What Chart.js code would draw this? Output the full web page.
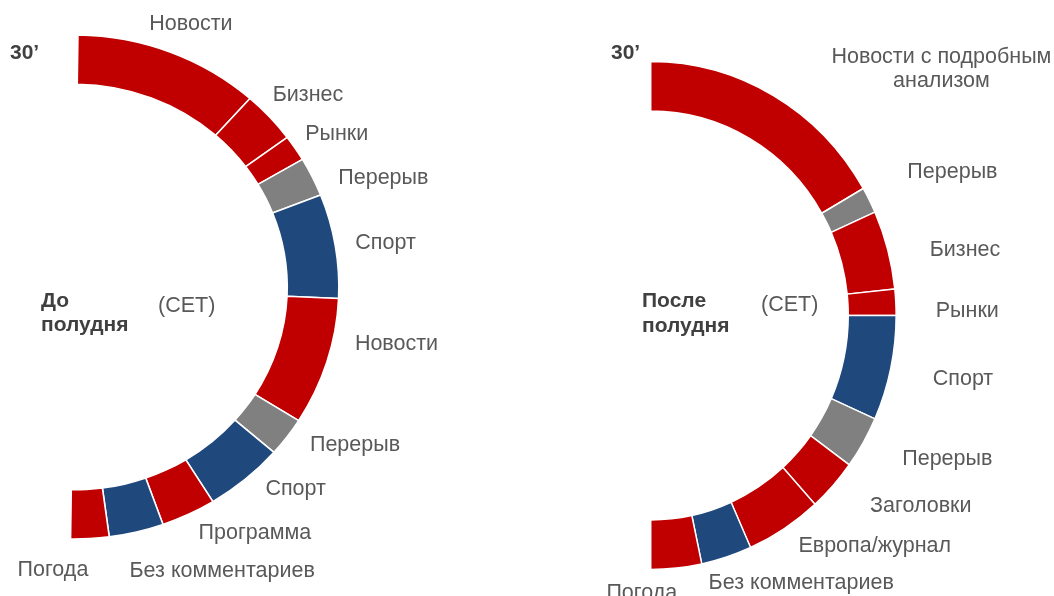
<!DOCTYPE html>
<html>
<head>
<meta charset="utf-8">
<script src="https://cdn.jsdelivr.net/npm/chart.js@4/dist/chart.umd.min.js"></script>
<style>
    html, body { margin: 0; padding: 0; background: #fff; }
    .grafic { position: absolute; left: 0; top: 0; width: 1054px; height: 596px; }
</style>
</head>
<body>
<div class="grafic"><canvas id="doPoludnya"></canvas></div>
<div class="grafic"><canvas id="poslePoludnya"></canvas></div>
<script>
// date : Start (minute din jumatatea de ora)
var kategoriiDo = ['Новости', 'Бизнес', 'Рынки', 'Перерыв', 'Спорт', 'Новости', 'Перерыв', 'Спорт', 'Программа', 'Без комментариев', 'Погода'];
var minutyDo = [6.8, 2, 1, 1.5, 4, 4.9, 1.5, 2.9, 2, 2, 1.4];
var tipDo = ['stiri', 'stiri', 'stiri', 'pauza', 'sport', 'stiri', 'pauza', 'sport', 'stiri', 'sport', 'stiri'];

var kategoriiPosle = ['Новости с подробным\nанализом', 'Перерыв', 'Бизнес', 'Рынки', 'Спорт', 'Перерыв', 'Заголовки', 'Европа/журнал', 'Без комментариев', 'Погода'];
var minutyPosle = [10, 1, 3, 1, 4, 2, 2, 3, 2, 2];
var tipPosle = ['stiri', 'pauza', 'stiri', 'stiri', 'sport', 'pauza', 'stiri', 'stiri', 'sport', 'stiri'];
// date : End

var culori = { stiri: '#C00000', sport: '#1F497D', pauza: '#808080' };

// decalajul etichetelor fata de mijlocul arcului (layout)
var decalajDo = [[21, -28, 'center'], [3, -22], [10, -14], [26, 1], [20, -3], [28, -18], [23, 8], [20, 10], [10, 19], [-7, 39], [-37, 32, 'center']];
var decalajPosle = [[168, -26, 'center'], [38, -28], [42, 0], [40, 9], [42, 11], [39, 17], [37, 21], [14, 18], [-18, 26], [-70, 25]];

// arcul putin eliptic, ca in original
var elipsaPlugin = {
    id: 'elipsa',
    beforeDatasetsDraw(chart, args, opts) {
        var arc = chart.getDatasetMeta(0).data[0];
        var ctx = chart.ctx;
        ctx.save();
        ctx.translate(arc.x, arc.y);
        ctx.scale(opts.scaleX, 1);
        ctx.translate(-arc.x, -arc.y);
    },
    afterDatasetsDraw(chart) {
        chart.ctx.restore();
    }
};

var etichetePlugin = {
    id: 'etichete',
    afterDraw(chart, args, opts) {
        var ctx = chart.ctx;
        var labels = chart.data.labels;
        ctx.save();
        ctx.fillStyle = '#595959';
        ctx.font = '21.5px "Liberation Sans", Arial, sans-serif';
        ctx.textBaseline = 'middle';
        chart.getDatasetMeta(0).data.forEach(function (arc, i) {
            var p = arc.getProps(['x', 'y', 'startAngle', 'endAngle', 'outerRadius'], true);
            var mid = (p.startAngle + p.endAngle) / 2;
            var px = p.x + Math.cos(mid) * p.outerRadius * opts.scaleX;
            var py = p.y + Math.sin(mid) * p.outerRadius;
            var d = opts.decalaj[i];
            ctx.textAlign = d[2] || 'left';
            var linii = labels[i].split('\n');
            linii.forEach(function (linie, k) {
                ctx.fillText(linie, px + d[0], py + d[1] + (k - (linii.length - 1) / 2) * 24);
            });
        });
        // textele fixe
        ctx.textAlign = 'left';
        opts.texte.forEach(function (t) {
            ctx.font = (t.bold ? 'bold 21px' : '21.5px') + ' "Liberation Sans", Arial, sans-serif';
            ctx.fillStyle = t.bold ? '#404040' : '#595959';
            ctx.fillText(t.text, t.x, t.y);
        });
        ctx.restore();
    }
};

function deseneazaSemicerc(id, labels, values, tipuri, setari) {
    var ctx = document.getElementById(id).getContext('2d');
    return new Chart(ctx, {
        type: 'doughnut',
        data: {
            labels: labels,
            datasets: [{
                data: values,
                backgroundColor: tipuri.map(function (t) { return culori[t]; }),
                borderColor: '#ffffff',
                borderWidth: 1.5
            }]
        },
        options: {
            responsive: true,
            maintainAspectRatio: false,
            animation: false,
            rotation: setari.rotation,
            circumference: 180,
            radius: setari.radius,
            cutout: '80.5%',
            layout: { padding: setari.padding },
            plugins: {
                legend: { display: false },
                tooltip: { enabled: false },
                elipsa: { scaleX: setari.scaleX },
                etichete: { scaleX: setari.scaleX, decalaj: setari.decalaj, texte: setari.texte }
            }
        },
        plugins: [elipsaPlugin, etichetePlugin]
    });
}

deseneazaSemicerc('doPoludnya', kategoriiDo, minutyDo, tipDo, {
    rotation: 0.8,
    radius: 252,
    scaleX: 1.05,
    padding: { left: 0, right: 657, top: 0, bottom: 22 },
    decalaj: decalajDo,
    texte: [
        { text: '30’', x: 10, y: 53, bold: true },
        { text: 'До', x: 41, y: 301, bold: true },
        { text: 'полудня', x: 41, y: 325, bold: true },
        { text: '(CET)', x: 158, y: 306 }
    ]
});

deseneazaSemicerc('poslePoludnya', kategoriiPosle, minutyPosle, tipPosle, {
    rotation: 0,
    radius: 254,
    scaleX: 0.966,
    padding: { left: 501.5, right: 0, top: 35, bottom: 0 },
    decalaj: decalajPosle,
    texte: [
        { text: '30’', x: 611, y: 53, bold: true },
        { text: 'После', x: 642, y: 301, bold: true },
        { text: 'полудня', x: 642, y: 326, bold: true },
        { text: '(CET)', x: 761, y: 305 }
    ]
});
</script>
</body>
</html>
